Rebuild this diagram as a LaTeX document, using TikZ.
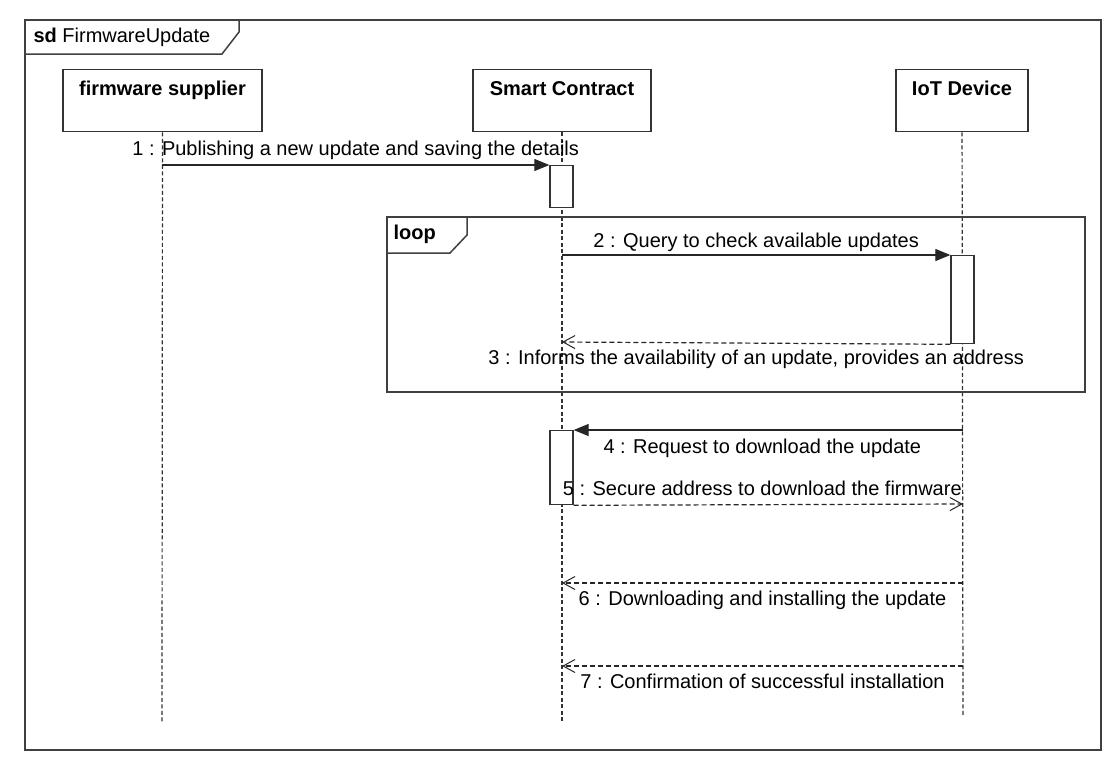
\documentclass[tikz,border=0pt]{standalone}
\usepackage{fontspec}
\setmainfont{Liberation Sans}
\usetikzlibrary{arrows.meta,positioning,calc}

\begin{document}
\begin{tikzpicture}[x=1pt,y=-1pt,
    every node/.style={font=\fontsize{20}{22}\selectfont},
    head/.style={draw=black!80,fill=white,line width=1.3pt,anchor=north,inner sep=0pt,
      minimum width=#1,minimum height=62pt,text height=26pt,text depth=36pt,
      font=\fontsize{20}{22}\selectfont\bfseries},
    lifeline/.style={draw=black!80,line width=1.2pt,dash pattern=on 4pt off 2.5pt},
    act/.style={draw=black!80,fill=white,line width=1.3pt,anchor=north,inner sep=0pt,
      minimum width=23pt,minimum height=#1},
    call/.style={draw=black!85,line width=1.2pt,-{Triangle[length=15pt,width=12pt]}},
    reply/.style={draw=black!85,line width=1.2pt,dash pattern=on 5pt off 3pt,
      -{Straight Barb[length=12pt,width=13pt,line width=1pt]}},
    frame/.style={draw=black!75,line width=1.5pt}]
  \useasboundingbox (0,0) rectangle (1113,758);
  \draw[frame] (25,20) rectangle (1101,750);
  \draw[frame,fill=white] (25,20) -- (239,20) -- (239,32) -- (222,54) -- (25,54) -- cycle;
  \node[anchor=west] (sdname) at (30,37) {\textbf{sd} FirmwareUpdate};
  \node[head=199pt] (fs) at (162.5,69) {firmware supplier};
  \node[head=178pt] (sc) at (562,69) {Smart Contract};
  \node[head=132pt] (iot) at (962,69) {IoT Device};
  \coordinate (fsend) at (162,722);
  \coordinate (scend) at (562,722);
  \coordinate (iotend) at (963,716);
  \draw[lifeline] (fs) -- (fsend);
  \draw[lifeline] (sc) -- (scend);
  \draw[lifeline] (iot) -- (iotend);
  \draw[frame] (387,217) rectangle (1085,392);
  \draw[frame,fill=white] (387,217) -- (467,217) -- (467,235) -- (450,253) -- (387,253) -- cycle;
  \node[anchor=west,font=\fontsize{20}{22}\selectfont\bfseries] (looplbl) at (390,234) {loop};
  \node[act=42pt] (a1) at (561.5,165) {};
  \node[act=88pt] (a2) at (962.5,255) {};
  \node[act=74pt] (a3) at (561.5,430) {};
  \coordinate (m1) at (162,165);
  \coordinate (m2) at (562,255);
  \coordinate (m3) at (562,342);
  \coordinate (m4) at (963,430);
  \coordinate (m5) at (963,504);
  \coordinate (m6a) at (963,583);
  \coordinate (m6b) at (562,583);
  \coordinate (m7a) at (963,666);
  \coordinate (m7b) at (562,666);
  \draw[call] (m1) -- node[above=1pt] {1 : Publishing a new update and saving the details} (a1.north west);
  \draw[call] (m2) -- node[above=-1pt] {2 : Query to check available updates} (a2.north west);
  \draw[reply] (a2.south west) -- node[below=3pt] {3 : Informs the availability of an update, provides an address} (m3);
  \draw[call] (m4) -- node[below=5pt,xshift=-6pt] {4 : Request to download the update} (a3.north east);
  \draw[reply] (a3.south east) -- node[above=5pt,xshift=-6pt] {5 : Secure address to download the firmware} (m5);
  \draw[reply] (m6a) -- node[below=4pt] {6 : Downloading and installing the update} (m6b);
  \draw[reply] (m7a) -- node[below=4pt] {7 : Confirmation of successful installation} (m7b);
\end{tikzpicture}
\end{document}
